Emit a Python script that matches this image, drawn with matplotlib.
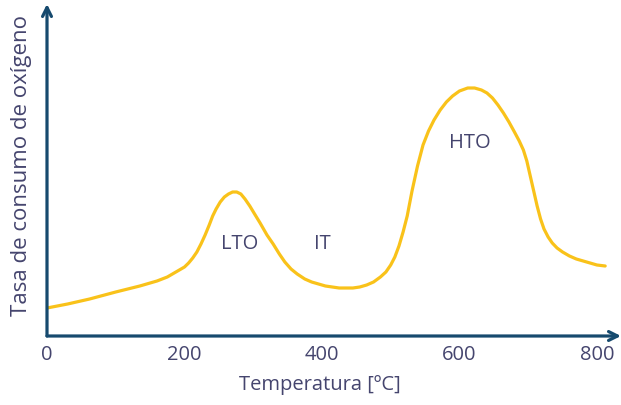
import matplotlib.pyplot as plt

# Curve (temperature in C, arbitrary rate units)
temp = [0, 30, 62, 100, 135, 160, 175, 190, 200, 206, 212, 218, 224, 230, 236,
        241, 246, 252, 258, 264, 270, 276, 282, 288, 295, 302, 310, 320, 329,
        338, 346, 355, 364, 375, 385, 395, 405, 415, 425, 435, 445, 455, 465,
        475, 485, 493, 500, 506, 512, 518, 524, 531, 539, 547, 555, 563, 572,
        581, 590, 600, 612, 622, 632, 640, 648, 656, 664, 672, 680, 687, 693,
        698, 703, 708, 713, 718, 723, 729, 735, 742, 750, 760, 770, 780, 790,
        800, 812]
rate = [28, 32, 37, 44, 50, 55, 59, 65, 69, 73, 78, 84, 92, 101, 111,
        120, 127, 134, 139, 142, 144, 144, 142, 137, 130, 122, 113, 101, 92,
        82, 74, 67, 62, 57, 54, 52, 50, 49, 48, 48, 48, 49, 51,
        54, 59, 64, 71, 79, 90, 104, 120, 145, 170, 191, 205, 216, 226,
        234, 240, 245, 248, 248, 246, 243, 238, 231, 223, 214, 204, 195, 186,
        175, 160, 145, 130, 117, 107, 99, 93, 88, 84, 80, 77, 75, 73,
        71, 70]

xticks = [0, 200, 400, 600, 800]
labels = [('LTO', 280, 93), ('IT', 400, 93), ('HTO', 615, 194)]

axis_col = '#164a6e'
text_col = '#45456e'
curve_col = '#f9c21a'

plt.rcParams['font.family'] = ['Open Sans', 'DejaVu Sans']

fig = plt.figure(figsize=(6.21, 4.06), dpi=100)
ax = fig.add_axes([47 / 621, 69 / 406, 574 / 621, 332 / 406])
ax.set_xlim(0, 835)
ax.set_ylim(0, 332)

ax.plot(temp, rate, color=curve_col, lw=2.3, solid_capstyle='round',
        solid_joinstyle='round')

for s in ax.spines.values():
    s.set_visible(False)

# axes drawn as arrows
ax.annotate('', xy=(1, 0), xytext=(0, 0), xycoords='axes fraction',
            arrowprops=dict(arrowstyle='->', lw=2.3, color=axis_col,
                            mutation_scale=16, shrinkA=0, shrinkB=0))
ax.annotate('', xy=(0, 1), xytext=(0, 0), xycoords='axes fraction',
            arrowprops=dict(arrowstyle='->', lw=2.3, color=axis_col,
                            mutation_scale=16, shrinkA=0, shrinkB=0))

ax.set_xticks(xticks)
ax.set_xticklabels([str(t) for t in xticks])
ax.set_yticks([])
ax.tick_params(axis='x', length=0, pad=6, labelsize=14.5, labelcolor=text_col)

for txt, x, y in labels:
    ax.text(x, y, txt, ha='center', va='center', fontsize=14.5, color=text_col)

fig.text(320 / 621, 1 - 385 / 406, 'Temperatura [ºC]', ha='center', va='center',
         fontsize=14.5, color=text_col)
fig.text(22 / 621, 1 - 166 / 406, 'Tasa de consumo de oxígeno', ha='center',
         va='center', rotation=90, fontsize=16, color=text_col)

fig.savefig('out.png', dpi=100)
